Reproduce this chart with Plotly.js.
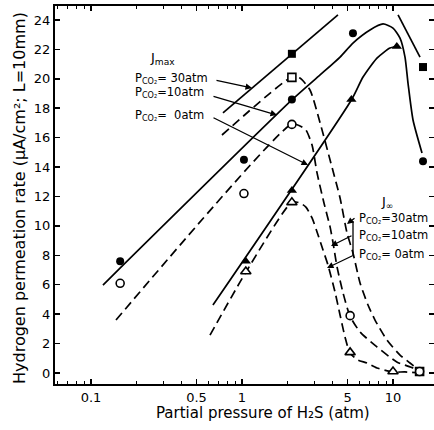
<!DOCTYPE html>
<html>
<head>
<meta charset="utf-8">
<script src="https://cdn.plot.ly/plotly-3.0.1.min.js"></script>
<style>html,body{margin:0;padding:0;background:#fff;}#chart{width:434px;height:430px;}</style>
</head>
<body>
<div id="chart"></div>
<script>
// ---- measured points (x: H2S partial pressure, atm; y: permeation rate) ----
// Jmax (filled symbols)
var jmax30X = [2.14, 15.8];               var jmax30Y = [21.7, 20.8];
var jmax10X = [0.156, 1.03, 2.14, 5.43, 15.8]; var jmax10Y = [7.6, 14.5, 18.6, 23.1, 14.4];
var jmax0X  = [1.06, 2.14, 5.3, 10.6];    var jmax0Y  = [7.6, 12.4, 18.6, 22.2];
// J-infinity (open symbols)
var jinf30X = [2.14, 15.0];               var jinf30Y = [20.1, 0.1];
var jinf10X = [0.156, 1.03, 2.14, 5.2, 15.0]; var jinf10Y = [6.1, 12.2, 16.9, 3.9, 0.1];
var jinf0X  = [1.06, 2.14, 5.2, 10.0];    var jinf0Y  = [6.9, 11.6, 1.4, 0.1];

// ---- drawn curves ----
var cJmax30X = [0.748, 4.32, null, 10.8, 15.1];
var cJmax30Y = [17.68, 24.34, null, 24.34, 21.48];
var cJmax10X = [0.120, 2.14, 3.29, 4.46, 5.43, 7.04, 8.59, 10.0, 11.13, 12.01, 12.57, 13.57, 15.56];
var cJmax10Y = [5.98, 18.56, 20.26, 21.48, 22.43, 23.32, 23.73, 23.45, 22.77, 21.48, 19.71, 17.20, 14.96];
var cJmax0X  = [0.642, 5.35, 6.33, 7.83, 9.55, 10.8];
var cJmax0Y  = [4.62, 18.63, 20.12, 21.41, 22.09, 22.23];

var cJinf30X = [0.737, 2.14, 2.42, 2.82, 3.29, 3.83, 4.46, 4.96, 5.43, 6.05, 6.83, 7.60, 9.12, 11.13, 12.96, 15.1];
var cJinf30Y = [16.18, 20.12, 20.05, 19.24, 17.0, 14.48, 11.90, 9.52, 8.16, 6.12, 4.62, 3.60, 2.24, 1.22, 0.68, 0.14];
var cJinf10X = [0.1464, 2.14, 2.42, 2.65, 2.91, 3.14, 3.49, 3.83, 4.01, 4.26, 4.67, 5.19, 6.05, 7.83, 10.6, 13.57, 15.1];
var cJinf10Y = [3.60, 16.93, 16.79, 16.52, 15.50, 13.60, 11.56, 9.93, 8.84, 7.21, 5.44, 3.87, 2.79, 1.77, 0.75, 0.34, 0.07];
var cJinf0X  = [0.614, 1.063, 2.14, 2.42, 2.65, 2.91, 3.19, 3.44, 3.71, 4.13, 4.46, 4.81, 5.19, 5.86, 6.73, 7.83, 10.0, 12.0, 15.1];
var cJinf0Y  = [2.58, 6.87, 11.62, 11.56, 11.28, 10.54, 9.38, 8.36, 7.34, 5.51, 3.94, 2.45, 1.36, 0.88, 0.68, 0.34, 0.07, 0.07, 0.0];

var xTickVals = [0.1, 0.5, 1, 5, 10];
var xTickText = ['0.1', '0.5', '1', '5', '10'];
var xMinorVals = [0.06, 0.07, 0.08, 0.09, 0.2, 0.3, 0.4, 0.6, 0.7, 0.8, 0.9, 2, 3, 4, 6, 7, 8, 9, 20];
var yTickVals = [0, 2, 4, 6, 8, 10, 12, 14, 16, 18, 20, 22, 24];

var FONT = 'DejaVu Sans';
var solid = {color: '#000', width: 1.7};
var dashed = {color: '#000', width: 1.7, dash: '9px,5px'};

function curve(x, y, line) {
  return {x: x, y: y, mode: 'lines', type: 'scatter', line: Object.assign({shape: 'spline', smoothing: 0.6}, line),
          connectgaps: false, hoverinfo: 'skip', showlegend: false};
}
function pts(x, y, sym, open) {
  return {x: x, y: y, mode: 'markers', type: 'scatter', showlegend: false,
          marker: {symbol: sym, size: sym.indexOf('triangle') === 0 ? 9 : 8,
                   color: open ? '#fff' : '#000', line: {color: '#000', width: open ? 1.6 : 0}}};
}

var data = [
  curve(cJmax30X, cJmax30Y, solid),
  curve(cJmax10X, cJmax10Y, solid),
  curve(cJmax0X, cJmax0Y, solid),
  curve(cJinf30X, cJinf30Y, dashed),
  curve(cJinf10X, cJinf10Y, dashed),
  curve(cJinf0X, cJinf0Y, dashed),
  pts(jmax30X, jmax30Y, 'square', false),
  pts(jmax10X, jmax10Y, 'circle', false),
  pts(jmax0X, jmax0Y, 'triangle-up', false),
  pts(jinf30X, jinf30Y, 'square', true),
  pts(jinf10X, jinf10Y, 'circle', true),
  pts(jinf0X, jinf0Y, 'triangle-up', true)
];

function px(x) { return (x - 55) / 379; }
function py(y) { return (384 - y) / 378; }
function label(x, y, t, anchor, size) {
  return {xref: 'paper', yref: 'paper', x: px(x), y: py(y), text: t, showarrow: false,
          xanchor: anchor || 'left', yanchor: 'middle', font: {family: FONT, size: size || 12, color: '#000'}};
}
function arrow(hx, hy, tx, ty) {
  return {xref: 'paper', yref: 'paper', x: px(hx), y: py(hy), ax: tx - hx, ay: ty - hy, text: '',
          showarrow: true, arrowhead: 2, arrowsize: 1, arrowwidth: 1.3, arrowcolor: '#000', standoff: 0};
}

var annotations = [
  label(162, 58, 'J<sub>max</sub>', 'center', 13),
  label(133, 78, 'P<sub>CO₂</sub>= 30atm', 'left', 11.5),
  label(133, 93, 'P<sub>CO₂</sub>=10atm', 'left', 11.5),
  label(133, 115, 'P<sub>CO₂</sub>=  0atm', 'left', 11.5),
  arrow(252, 88, 215, 80),
  arrow(277, 115, 212, 96),
  arrow(308, 165, 212, 117),
  label(387, 202, 'J<sub>∞</sub>', 'center', 13),
  label(357, 218, 'P<sub>CO₂</sub>=30atm', 'left', 11.5),
  label(357, 235, 'P<sub>CO₂</sub>=10atm', 'left', 11.5),
  label(357, 254, 'P<sub>CO₂</sub>= 0atm', 'left', 11.5),
  arrow(347, 224, 356, 217),
  arrow(331, 246, 353, 235),
  arrow(327, 268, 354, 255),
  label(19, 198, 'Hydrogen permeation rate (μA/cm²; L=10mm)', 'center', 16),
  label(263, 413, 'Partial pressure of H₂S (atm)', 'center', 15)
];
annotations[14].textangle = -90;

var layout = {
  width: 434, height: 430,
  margin: {l: 55, r: 0, t: 6, b: 46},
  paper_bgcolor: '#fff', plot_bgcolor: '#fff',
  showlegend: false,
  font: {family: FONT, size: 13, color: '#000'},
  xaxis: {type: 'log', range: [-1.2384, 1.2715], tickvals: xTickVals, ticktext: xTickText,
          ticks: 'inside', ticklen: 5, tickwidth: 1.5, tickcolor: '#000',
          minor: {tickvals: xMinorVals, ticks: 'inside', ticklen: 3, tickwidth: 1, tickcolor: '#000', showgrid: false},
          showline: true, linewidth: 2, linecolor: '#000', mirror: 'allticks', showgrid: false, zeroline: false,
          tickfont: {family: FONT, size: 13, color: '#000'}},
  yaxis: {range: [-0.748, 24.95], tickvals: yTickVals,
          ticks: 'inside', ticklen: 5, tickwidth: 1.5, tickcolor: '#000',
          showline: true, linewidth: 2, linecolor: '#000', mirror: 'allticks', showgrid: false, zeroline: false,
          tickfont: {family: FONT, size: 13, color: '#000'}},
  shapes: [{type: 'line', xref: 'paper', yref: 'paper', x0: px(353), x1: px(353), y0: py(221), y1: py(256),
            line: {color: '#000', width: 1.3}}],
  annotations: annotations
};

Plotly.newPlot('chart', data, layout, {staticPlot: true, displayModeBar: false});
</script>
</body>
</html>
